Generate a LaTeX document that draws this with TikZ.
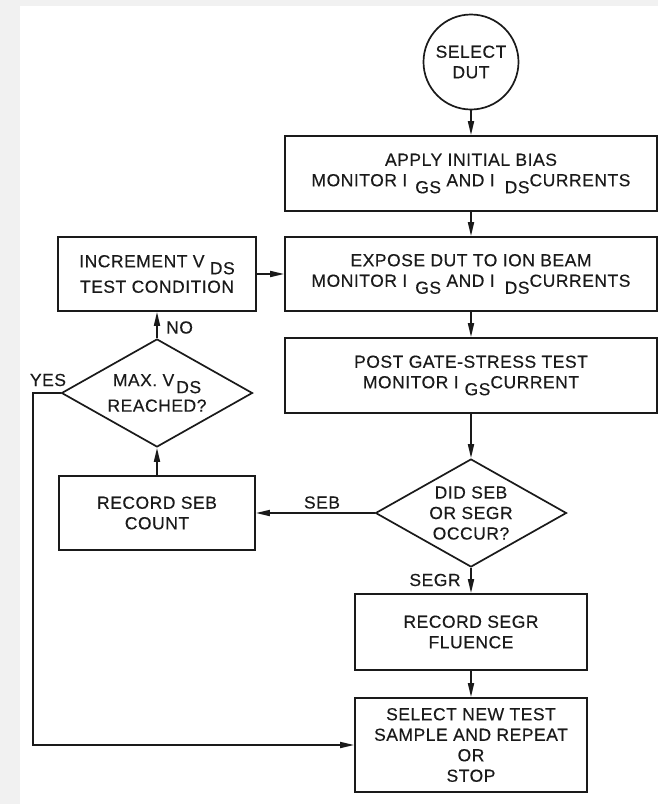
\documentclass[tikz,border=0pt]{standalone}
\usepackage{fontspec}
\setmainfont{Liberation Sans}[LetterSpace=3, FakeBold=0.3]
\usetikzlibrary{shapes.geometric,arrows.meta}
\definecolor{ink}{HTML}{1A1A1A}
\definecolor{edgegray}{HTML}{F1F1F1}
\newcommand\sbs[1]{\raisebox{-7pt}{#1}}
\begin{document}
\begin{tikzpicture}[x=1pt,y=-1pt,
  every node/.style={font=\fontsize{17.5}{20.5}\selectfont, text=ink},
  box/.style={draw=ink, line width=1.7pt, rectangle, inner sep=0pt, align=center},
  decision/.style={draw=ink, line width=1.7pt, diamond, aspect=1.76, inner sep=0pt,
    minimum width=191pt, minimum height=108pt, align=center},
  terminal/.style={draw=ink, line width=1.7pt, circle, inner sep=0pt,
    minimum size=95pt, align=center},
  lbl/.style={inner sep=0pt},
  arr/.style={draw=ink, line width=1.7pt, -{Triangle[length=14pt,width=6pt]}}]
\useasboundingbox (0,0) rectangle (658,804);
\fill[edgegray] (0,0) rectangle (658,804);
\fill[white] (20,6) rectangle (658,804);

% nodes
\node[terminal] (sel) at (471,62) {SELECT\\DUT};
\node[box, minimum width=372pt, minimum height=75pt] (b1) at (471,173.5)
  {APPLY INITIAL BIAS\\MONITOR I\hspace{8pt}\sbs{GS} AND I\hspace{10pt}\sbs{DS}CURRENTS};
\node[box, minimum width=372pt, minimum height=74pt] (b2) at (471,274)
  {EXPOSE DUT TO ION BEAM\\MONITOR I\hspace{8pt}\sbs{GS} AND I\hspace{10pt}\sbs{DS}CURRENTS};
\node[box, minimum width=372pt, minimum height=75pt] (b3) at (471,375.5)
  {POST GATE-STRESS TEST\\MONITOR I\hspace{6pt}\sbs{GS}CURRENT};
\node[decision] (seb) at (471,513) {DID SEB\\OR SEGR\\OCCUR?};
\node[box, minimum width=232pt, minimum height=76pt] (rsegr) at (471,632)
  {RECORD SEGR\\FLUENCE};
\node[box, minimum width=232pt, minimum height=94pt] (snew) at (471,745)
  {SELECT NEW TEST\\SAMPLE AND REPEAT\\OR\\STOP};
\node[box, minimum width=198pt, minimum height=74pt] (inc) at (157,274)
  {INCREMENT V \sbs{DS}\\[5pt]TEST CONDITION};
\node[decision] (maxd) at (157,393) {MAX.\ V\hspace{2pt}\sbs{DS}\\[5pt]REACHED?};
\node[box, minimum width=196pt, minimum height=74pt] (rseb) at (157,513)
  {RECORD SEB\\COUNT};

% labels
\node[lbl, anchor=west] (lno) at (166,327.5) {NO};
\node[lbl] (lyes) at (48,380) {YES};
\node[lbl] (lseb) at (322,502.5) {SEB};
\node[lbl] (lsegr) at (435,580) {SEGR};

\coordinate (y1) at (33,393);
\coordinate (y2) at (33,745);

% connectors
\draw[arr] (sel) -- (b1);
\draw[arr] (b1) -- (b2);
\draw[arr] (b2) -- (b3);
\draw[arr] (b3) -- (seb);
\draw[arr] (seb.west) -- (rseb.east);
\draw[arr] (seb.south) -- (rsegr.north);
\draw[arr] (rsegr) -- (snew);
\draw[arr] (rseb.north) -- (maxd.south);
\draw[arr] (maxd.north) -- (inc.south);
\draw[arr] (inc.east) -- (b2.west);
\draw[arr] (maxd.west) -- (y1) -- (y2) -- (snew.west);
\end{tikzpicture}
\end{document}
